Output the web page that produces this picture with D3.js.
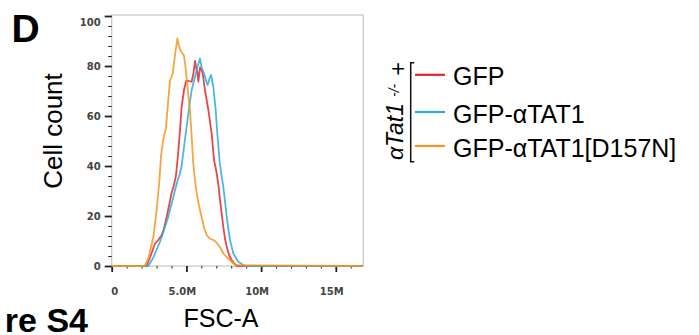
<!DOCTYPE html>
<html>
<head>
<meta charset="utf-8">
<script src="https://cdn.jsdelivr.net/npm/d3@7"></script>
<style>
  body { margin: 0; background: #fff; }
  svg { display: block; }
  .tick text { font-family: "DejaVu Sans", sans-serif; font-weight: bold; font-size: 10px; fill: #444; }
  .tick line { stroke: #222; }
</style>
</head>
<body>
<div id="chart"></div>
<script>
// legend labels / colours
const seriesNames = ["GFP", "GFP-\u03b1TAT1", "GFP-\u03b1TAT1[D157N]"];
const seriesColors = ["#e4262b", "#29aae1", "#f7941d"];

// FSC-A (millions) vs cell count
const gfpX = [0, 2.34, 2.6, 2.9, 3.12, 3.35, 3.5, 3.68, 3.85, 4.0, 4.15, 4.3, 4.46, 4.58, 4.68, 4.84, 4.98, 5.15, 5.35, 5.47, 5.58, 5.66, 5.73, 5.8, 5.91, 6.0, 6.09, 6.24, 6.47, 6.69, 6.85, 7.03, 7.15, 7.25, 7.36, 7.47, 7.58, 7.7, 7.85, 8.03, 8.2, 8.37, 16.8];
const gfpY = [0, 0, 4, 9, 10.4, 12.4, 15, 19.7, 24.5, 29, 32, 36, 46, 55, 63.7, 70.4, 74, 74, 73.7, 77, 82, 79, 77.7, 73.7, 79.4, 78.5, 77, 70.4, 62.4, 53, 42.4, 37, 32, 26.4, 21, 15.7, 11, 7.7, 4.5, 2.4, 1, 0, 0];

const tatX = [0, 2.45, 2.75, 3.0, 3.23, 3.4, 3.57, 3.75, 3.9, 4.08, 4.24, 4.4, 4.57, 4.68, 4.9, 5.13, 5.35, 5.58, 5.73, 5.91, 6.02, 6.18, 6.3, 6.42, 6.55, 6.65, 6.8, 6.96, 7.07, 7.22, 7.35, 7.47, 7.6, 7.7, 7.8, 7.92, 8.14, 8.47, 8.92, 16.8];
const tatY = [0, 0, 3, 6.4, 9.7, 12.5, 15.7, 19, 22.4, 26.5, 30.4, 34, 37, 40, 50.4, 61, 70.4, 75.7, 79.4, 83, 79.4, 77, 74.5, 72.4, 75, 76.4, 71.7, 62.4, 53, 42, 36, 31.7, 25, 19.7, 15, 10.4, 5, 1.7, 0, 0];

const d157nX = [0, 2.2, 2.45, 2.65, 2.8, 3.0, 3.19, 3.3, 3.46, 3.63, 3.78, 3.9, 4.08, 4.25, 4.4, 4.5, 4.62, 4.75, 4.84, 4.93, 5.02, 5.13, 5.24, 5.35, 5.46, 5.58, 5.69, 5.85, 6.02, 6.2, 6.36, 6.55, 6.8, 7.0, 7.14, 7.3, 7.47, 7.7, 7.92, 8.15, 8.36, 16.8];
const d157nY = [0, 0, 3, 8, 12, 22, 34, 44, 51, 55, 66, 74, 77, 85, 91, 88, 86, 85, 84, 80, 75, 68, 62, 52, 41, 34, 29, 24, 19.5, 15, 12.4, 11, 10.4, 9.5, 8.4, 7, 5, 3.5, 2.4, 1, 0.3, 0];

// ticks
const yMajor = [0, 20, 40, 60, 80, 100];
const yMinor = d3.range(0, 101, 4);
const xMajor = [0, 5, 10, 15];
const xMajorLabels = ["0", "5.0M", "10M", "15M"];
const xMinor = d3.range(0, 17, 1);

const width = 699, height = 335;
const plot = { left: 111.7, right: 363.3, top: 16, bottom: 266 };

const series = [
  { name: seriesNames[0], color: seriesColors[0], xs: gfpX, ys: gfpY },
  { name: seriesNames[1], color: seriesColors[1], xs: tatX, ys: tatY },
  { name: seriesNames[2], color: seriesColors[2], xs: d157nX, ys: d157nY },
];

const svg = d3.select("#chart").append("svg")
  .attr("width", width)
  .attr("height", height);

const x = d3.scaleLinear().domain([0, 16.84]).range([plot.left, plot.right]);
const y = d3.scaleLinear().domain([0, 100]).range([plot.bottom, plot.top]);

// frame
svg.append("rect")
  .attr("x", plot.left).attr("y", plot.top - 1)
  .attr("width", plot.right - plot.left).attr("height", plot.bottom - plot.top + 1)
  .attr("fill", "none").attr("stroke", "#c9c9c9").attr("stroke-width", 1.3);

// y axis: minor then major
svg.append("g")
  .attr("transform", `translate(${plot.left},0)`)
  .call(d3.axisLeft(y).tickValues(yMinor).tickSize(3.5).tickFormat(""))
  .call((g) => g.select(".domain").remove())
  .call((g) => g.selectAll("line").attr("stroke-width", 1));

svg.append("g")
  .attr("transform", `translate(${plot.left},0)`)
  .call(d3.axisLeft(y).tickValues(yMajor).tickSize(7).tickPadding(4))
  .call((g) => g.select(".domain").remove())
  .call((g) => g.selectAll("line").attr("stroke-width", 1.8))
  .call((g) => g.selectAll("text").filter((d) => d === 100).attr("dy", "0.97em"));

// x axis: minor then major
svg.append("g")
  .attr("transform", `translate(0,${plot.bottom})`)
  .call(d3.axisBottom(x).tickValues(xMinor).tickSize(2.5).tickFormat(""))
  .call((g) => g.select(".domain").remove())
  .call((g) => g.selectAll("line").attr("stroke-width", 1));

svg.append("g")
  .attr("transform", `translate(0,${plot.bottom})`)
  .call(d3.axisBottom(x).tickValues(xMajor).tickSize(6).tickPadding(16)
    .tickFormat((d, i) => xMajorLabels[i]))
  .call((g) => g.select(".domain").remove())
  .call((g) => g.selectAll("line").attr("stroke-width", 1.8))
  .call((g) => g.selectAll("text").attr("dx", (d) => (d === 0 ? 2.5 : -4.5)));

// curves
const line = d3.line()
  .x((d) => x(d[0]))
  .y((d) => y(d[1]));

svg.append("g")
  .selectAll("path")
  .data(series)
  .join("path")
  .attr("d", (s) => line(d3.zip(s.xs, s.ys)))
  .attr("fill", "none")
  .attr("stroke", (s) => s.color)
  .attr("stroke-opacity", 0.85)
  .attr("stroke-width", 1.8)
  .attr("stroke-linejoin", "round");

// texts
const font = "'Liberation Sans', Arial, sans-serif";

svg.append("text")
  .attr("x", 11.5).attr("y", 41.7)
  .style("font-family", font).style("font-weight", "bold").style("font-size", "39px")
  .text("D");

svg.append("text")
  .attr("transform", "translate(61.5,131) rotate(-90)")
  .attr("text-anchor", "middle")
  .style("font-family", font).style("font-size", "26px")
  .text("Cell count");

svg.append("text")
  .attr("x", 221).attr("y", 327)
  .attr("text-anchor", "middle")
  .style("font-family", font).style("font-size", "25px")
  .text("FSC-A");

svg.append("text")
  .attr("x", 88).attr("y", 332)
  .attr("text-anchor", "end")
  .style("font-family", font).style("font-weight", "bold").style("font-size", "34px")
  .text("re S4");

// genotype label (rotated) + bracket
const geno = svg.append("g")
  .attr("transform", "translate(402.7,160) rotate(-90)")
  .style("font-family", font);
geno.append("text")
  .attr("x", 0).attr("y", 0)
  .style("font-style", "italic").style("font-size", "23px")
  .text("\u03b1Tat1");
geno.append("text")
  .attr("x", 63).attr("y", -3.5)
  .style("font-style", "italic").style("font-size", "14px")
  .text("-/-");
geno.append("text")
  .attr("x", 84.5).attr("y", 3.7)
  .style("font-size", "23px")
  .text("+");

svg.append("path")
  .attr("d", "M414.3,62.7H410.7V161.7H414.3")
  .attr("fill", "none").attr("stroke", "#111").attr("stroke-width", 1.5);

// legend
const legendY = [74.8, 112, 146];
const legend = svg.append("g")
  .selectAll("g")
  .data(series)
  .join("g")
  .attr("transform", (d, i) => `translate(415,${legendY[i]})`);
legend.append("line")
  .attr("x1", 0).attr("x2", 30)
  .attr("stroke", (d) => d.color).attr("stroke-width", 2.2);
legend.append("text")
  .attr("x", 38).attr("y", 10.5)
  .style("font-family", font).style("font-size", "25px")
  .text((d) => d.name);
</script>
</body>
</html>
